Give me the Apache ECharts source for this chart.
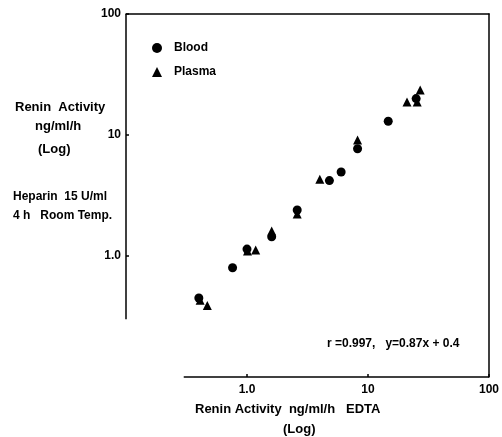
<!DOCTYPE html>
<html>
<head>
<meta charset="utf-8">
<script src="https://cdn.jsdelivr.net/npm/echarts@6/dist/echarts.min.js"></script>
<style>
  html, body { margin: 0; padding: 0; background: #fff; }
  #chart { width: 502px; height: 437px; }
</style>
</head>
<body>
<div id="chart"></div>
<script>
// values (ng/ml/h), EDTA on x, heparin on y
const bloodX = [0.40, 0.76, 1.0, 1.6, 2.6, 4.8, 6.0, 8.2, 14.7, 25];
const bloodY = [0.45, 0.80, 1.14, 1.44, 2.4, 4.2, 4.95, 7.7, 13.0, 20];
const plasmaX = [0.41, 0.47, 1.01, 1.18, 1.6, 2.6, 4.0, 8.2, 21, 25.5, 27];
const plasmaY = [0.43, 0.39, 1.10, 1.12, 1.61, 2.22, 4.3, 9.1, 18.7, 18.7, 23.5];
const tickValues = [1, 10, 100];
const tickLabels = ['1.0', '10', '100'];

const FONT = '"Liberation Sans", Arial, sans-serif';
const labelFmt = v => {
  const i = tickValues.findIndex(t => Math.abs(t - v) / t < 1e-6);
  return i >= 0 ? tickLabels[i] : '';
};

const chart = echarts.init(document.getElementById('chart'));

const axisTxt = { color: '#000', fontFamily: FONT, fontWeight: 'bold', fontSize: 12 };

chart.setOption({
  backgroundColor: '#fff',
  animation: false,
  grid: { left: 126, right: 11, top: 14, bottom: 60 },
  xAxis: [{
    type: 'log', min: 0.1, max: 100, logBase: 10,
    axisLine: { show: false },
    splitLine: { show: false },
    axisTick: { show: true, inside: true, length: 3, customValues: tickValues,
      lineStyle: { color: '#000', width: 1.5 } },
    axisLabel: Object.assign({ margin: 7, customValues: tickValues, formatter: labelFmt }, axisTxt)
  }, {
    type: 'log', min: 0.1, max: 100, position: 'top',
    axisLine: { show: true, onZero: false, lineStyle: { color: '#000', width: 1.5 } },
    axisTick: { show: false }, axisLabel: { show: false }, splitLine: { show: false }
  }],
  yAxis: [{
    type: 'log', min: 0.1, max: 100, logBase: 10,
    axisLine: { show: false },
    splitLine: { show: false },
    axisTick: { show: true, inside: true, length: 3, customValues: tickValues,
      lineStyle: { color: '#000', width: 1.5 } },
    axisLabel: Object.assign({ margin: 5, customValues: tickValues, formatter: labelFmt }, axisTxt)
  }, {
    type: 'log', min: 0.1, max: 100, position: 'right',
    axisLine: { show: true, onZero: false, lineStyle: { color: '#000', width: 1.5 } },
    axisTick: { show: false }, axisLabel: { show: false }, splitLine: { show: false }
  }],
  legend: {
    orient: 'vertical', left: 147, top: 37,
    itemWidth: 10, itemHeight: 10, itemGap: 12,
    textStyle: { color: '#000', fontFamily: FONT, fontWeight: 'bold', fontSize: 12, padding: [0, 0, 0, 7] },
    data: [{ name: 'Blood', icon: 'circle' }, { name: 'Plasma', icon: 'triangle' }]
  },
  series: [{
    name: 'Blood', type: 'scatter', symbol: 'circle', symbolSize: 9,
    itemStyle: { color: '#000', opacity: 1 },
    data: bloodX.map((x, i) => [x, bloodY[i]]),
    markLine: {
      silent: true, symbol: 'none', label: { show: false },
      lineStyle: { color: '#000', width: 1.5, type: 'solid' },
      data: [
        [{ coord: [0.1, 0.3] }, { coord: [0.1, 100] }],
        [{ coord: [0.3, 0.1] }, { coord: [100, 0.1] }]
      ]
    }
  }, {
    name: 'Plasma', type: 'scatter', symbol: 'triangle', symbolSize: 9,
    itemStyle: { color: '#000', opacity: 1 },
    data: plasmaX.map((x, i) => [x, plasmaY[i]])
  }],
  graphic: [
    { type: 'text', left: 15, top: 101, style: { text: 'Renin  Activity', fill: '#000', font: 'bold 13px ' + FONT } },
    { type: 'text', left: 35, top: 120, style: { text: 'ng/ml/h', fill: '#000', font: 'bold 13px ' + FONT } },
    { type: 'text', left: 38, top: 143, style: { text: '(Log)', fill: '#000', font: 'bold 13px ' + FONT } },
    { type: 'text', left: 13, top: 191, style: { text: 'Heparin  15 U/ml', fill: '#000', font: 'bold 12px ' + FONT } },
    { type: 'text', left: 13, top: 210, style: { text: '4 h   Room Temp.', fill: '#000', font: 'bold 12px ' + FONT } },
    { type: 'text', left: 327, top: 338, style: { text: 'r =0.997,   y=0.87x + 0.4', fill: '#000', font: 'bold 12px ' + FONT } },
    { type: 'text', left: 195, top: 403, style: { text: 'Renin Activity  ng/ml/h   EDTA', fill: '#000', font: 'bold 13px ' + FONT } },
    { type: 'text', left: 283, top: 423, style: { text: '(Log)', fill: '#000', font: 'bold 13px ' + FONT } }
  ]
});
</script>
</body>
</html>
